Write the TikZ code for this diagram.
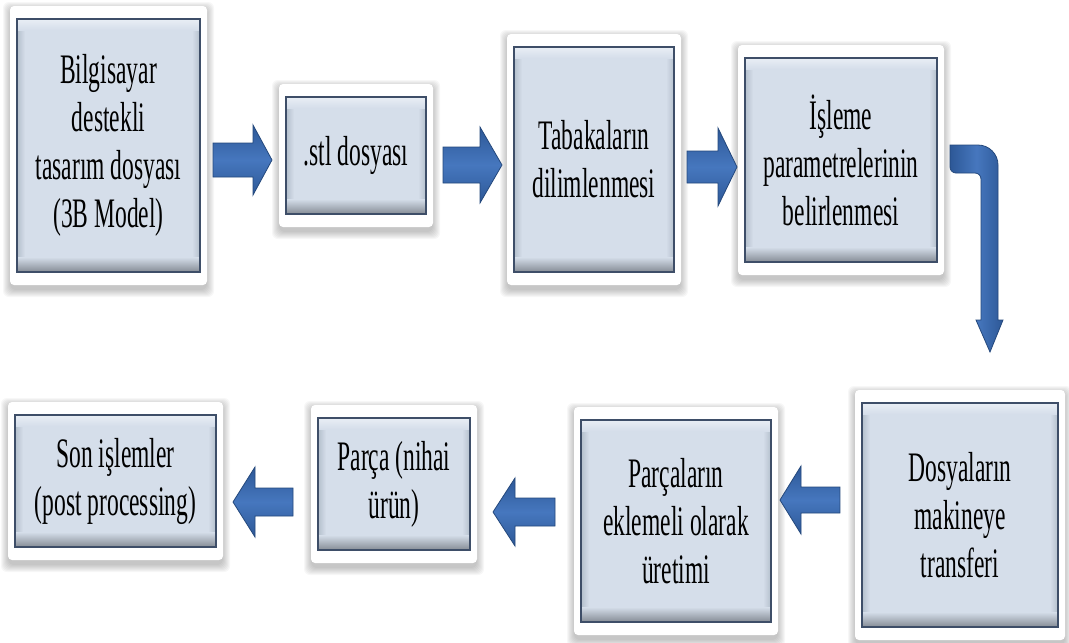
\documentclass[tikz,border=0pt]{standalone}
\usepackage{fontspec}
\setmainfont{Liberation Serif}[FakeStretch=0.56]
\usetikzlibrary{calc}
\definecolor{boxfill}{HTML}{D5DEEA}
\definecolor{boxtop}{HTML}{E9EEF5}
\definecolor{boxside}{HTML}{B4BFCC}
\definecolor{bevdark}{HTML}{858C95}
\definecolor{boxborder}{HTML}{3E4E68}
\definecolor{arrowmid}{HTML}{4677BE}
\definecolor{arrowdark}{HTML}{2D5897}
\definecolor{arrowedge}{HTML}{24487C}
\tikzset{
  innerbox/.style={draw=boxborder, line width=1.6pt, fill=boxfill,
    align=center, inner sep=0pt, text=black,
    font=\fontsize{42}{48}\selectfont,
    path picture={
      \coordinate (pSW) at (path picture bounding box.south west);
      \coordinate (pNE) at (path picture bounding box.north east);
      \shade[left color=boxside, right color=boxfill] (pSW) rectangle ([xshift=8pt]pSW|-pNE);
      \shade[right color=boxside, left color=boxfill] (pSW-|pNE) rectangle ([xshift=-8pt]pNE);
      \shade[top color=boxtop, bottom color=boxfill] (pSW|-pNE) rectangle ([yshift=-11pt]pNE);
      \shade[top color=boxfill, bottom color=bevdark] ([yshift=15pt]pSW) rectangle (pSW-|pNE);
    }},
  arrowfill/.style={top color=arrowdark, bottom color=arrowdark, middle color=arrowmid,
    draw=arrowedge, line width=0.8pt, line join=miter}
}
% name, x1, y1, x2, y2, text
\newcommand\flowbox[6]{%
  \foreach \k in {0,...,7}{
    \fill[black!70, opacity=0.045, rounded corners=6pt]
      ({#2-7-\k},{#3-13-\k+3}) rectangle ({#4+7+\k},{#5+13+\k+5});
  }
  \fill[white, rounded corners=4pt] ({#2-7},{#3-13}) rectangle ({#4+7},{#5+13});
  \node[innerbox, minimum width={(#4-#2)*1pt}, minimum height={(#5-#3)*1pt}]
    (#1) at ({(#2+#4)/2},{(#3+#5)/2}) {#6};
}
% tail x, base x, tip x, centre y, shaft half, head half
\newcommand\blockarrow[6]{%
  \path[arrowfill] (#1,{#4-#5}) -- (#2,{#4-#5}) -- (#2,{#4-#6}) -- (#3,#4)
    -- (#2,{#4+#6}) -- (#2,{#4+#5}) -- (#1,{#4+#5}) -- cycle;
}
\begin{document}
\begin{tikzpicture}[x=1pt,y=-1pt]
\useasboundingbox (0,0) rectangle (1069,643);
\fill[white] (0,0) rectangle (1069,643);

\flowbox{b1}{17}{19}{200}{272}{Bilgisayar\\destekli\\tasarım dosyası\\(3B Model)}
\flowbox{b2}{286}{97}{426}{214}{.stl dosyası}
\flowbox{b3}{514}{47}{674}{272}{Tabakaların\\dilimlenmesi}
\flowbox{b4}{745}{58}{937}{262}{İşleme\\parametrelerinin\\belirlenmesi}
\flowbox{b5}{862}{403}{1058}{627}{Dosyaların\\makineye\\transferi}
\flowbox{b6}{581}{420}{771}{622}{Parçaların\\eklemeli olarak\\üretimi}
\flowbox{b7}{318}{418}{470}{550}{Parça (nihai\\ürün)}
\flowbox{b8}{15}{415}{216}{547}{Son işlemler\\(post processing)}

% top row arrows (b1 -> b2 -> b3 -> b4)
\blockarrow{213}{253}{272}{160}{17}{35}
\blockarrow{443}{480}{502}{165}{18}{38}
\blockarrow{687}{718}{737}{167}{16}{39}

% bent arrow b4 -> b5
\coordinate (bendA) at (950,145);
\path[arrowfill, left color=arrowdark, right color=arrowdark, middle color=arrowmid]
  (bendA) [rounded corners=20pt]-- (998,145) -- (998,240) [sharp corners]-- (998,320)
  -- (1003,320) -- (990,352) -- (976,320) -- (981,320)
  [rounded corners=6pt]-- (981,173) -- (950,173) [sharp corners]-- cycle;

% bottom row arrows (b5 -> b6 -> b7 -> b8)
\blockarrow{840}{801}{780}{500}{13}{34}
\blockarrow{555}{515}{493}{512}{14}{34}
\blockarrow{293}{255}{233}{502}{14}{35}
\end{tikzpicture}
\end{document}
